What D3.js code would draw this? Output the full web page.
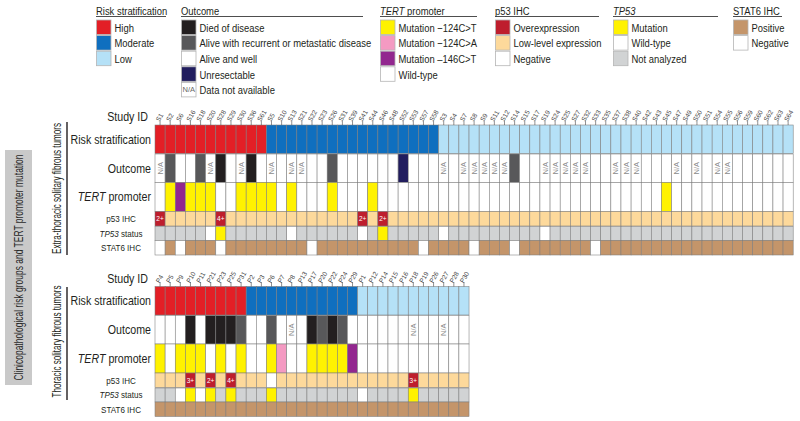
<!DOCTYPE html>
<html><head><meta charset="utf-8">
<script src="https://cdn.jsdelivr.net/npm/d3@7"></script>
<style>body{margin:0;background:#fff}svg{display:block}text{font-family:"Liberation Sans",Arial,sans-serif}</style>
</head><body><svg id="c" width="800" height="421"></svg>
<script>
// ---------------- DATA ----------------
const topIds = ["S1","S2","S6","S16","S18","S20","S28","S29","S30","S36","S61",
  "S5","S10","S13","S21","S22","S23","S26","S31","S39","S41","S44","S46","S48","S52","S53","S57","S58",
  "S3","S4","S7","S8","S9","S11","S12","S14","S15","S17","S19","S24","S25","S27","S32","S33","S35","S37","S38","S40",
  "S42","S43","S45","S47","S49","S50","S51","S54","S55","S56","S59","S60","S62","S63","S64"];
const topRisk = ["H","H","H","H","H","H","H","H","H","H","H",
  "M","M","M","M","M","M","M","M","M","M","M","M","M","M","M","M","M",
  "L","L","L","L","L","L","L","L","L","L","L","L","L","L","L","L","L","L","L","L",
  "L","L","L","L","L","L","L","L","L","L","L","L","L","L","L"];
const topOutcome = ["NA","R","A","A","R","NA","D","A","NA","D",
  "A","NA","A","NA","NA","A","A","R","A","A",
  "A","A","A","A","U","A","A","A","NA","A",
  "NA","NA","NA","NA","NA","R","A","A","NA","NA",
  "NA","NA","NA","A","A","NA","NA","NA","A","A",
  "A","NA","A","NA","A","NA","NA","A","A","A",
  "A","A","A"];
const topTert = ["W","T","C","T","T","T","W","W","T","T",
  "T","T","W","T","W","W","W","T","W","W",
  "W","T","W","W","W","W","W","W","W","W",
  "W","W","W","W","W","W","W","W","W","W",
  "W","W","W","W","W","W","W","W","W","W",
  "T","W","W","W","W","W","W","W","W","W",
  "W","W","W"];
const topP53 = ["2+","L","L","L","L","L","4+","L","L","L",
  "L","L","L","L","L","L","L","L","L","L",
  "2+","L","2+","L","L","L","L","L","L","L",
  "L","L","L","L","L","L","L","L","L","L",
  "L","L","L","L","L","L","L","L","L","L",
  "L","L","L","L","L","L","L","L","L","L",
  "L","L","L"];
const topTP53 = ["X","X","X","X","X","W","M","X","X","X",
  "X","X","X","W","X","X","X","X","X","X",
  "W","X","M","X","X","X","X","X","W","X",
  "X","X","X","X","X","X","X","X","W","X",
  "X","X","X","X","X","X","X","X","X","X",
  "X","X","X","X","X","X","X","X","X","X",
  "X","X","X"];
const topStat6 = ["N","P","N","P","P","P","N","P","P","P",
  "P","P","P","P","P","N","P","P","P","P",
  "P","P","P","P","P","P","N","P","P","P",
  "P","N","P","P","P","N","P","P","P","P",
  "P","P","P","N","P","P","P","P","P","P",
  "P","P","P","P","P","P","P","P","P","P",
  "P","P","P"];

const botIds = ["P4","P5","P9","P10","P11","P21","P23","P25","P31",
  "P2","P3","P6","P7","P8","P13","P17","P20","P22","P24","P29",
  "P1","P12","P14","P15","P16","P18","P19","P26","P27","P28","P30"];
const botRisk = ["H","H","H","H","H","H","H","H","H",
  "M","M","M","M","M","M","M","M","M","M","M",
  "L","L","L","L","L","L","L","L","L","L","L"];
const botOutcome = ["A","A","A","D","A","D","D","D","R","A",
  "A","R","A","NA","A","D","R","D","R","A",
  "A","A","A","A","A","NA","A","A","NA","A","A"];
const botTert = ["T","W","T","T","T","W","T","W","T","W",
  "W","T","A","W","W","T","T","T","T","C",
  "W","W","W","W","W","W","W","W","W","W","W"];
const botP53 = ["L","L","L","3+","L","2+","L","4+","L","L",
  "L","N","L","L","L","L","L","L","L","L",
  "L","L","L","L","L","3+","L","L","L","L","L"];
const botTP53 = ["X","X","W","M","W","M","X","M","X","X",
  "X","M","X","X","X","X","X","X","X","X",
  "W","X","X","X","X","M","X","X","X","X","X"];
const botStat6 = ["P","P","P","P","P","P","P","P","P","P",
  "P","P","P","P","P","P","P","P","P","P",
  "P","P","P","P","P","P","P","P","P","P","P"];

// legend texts
const riskLegend = [["H","High"],["M","Moderate"],["L","Low"]];
const outcomeLegend = [["D","Died of disease"],["R","Alive with recurrent or metastatic disease"],["A","Alive and well"],["U","Unresectable"],["NA","Data not available"]];
const tertLegend = [["T","Mutation \u2212124C>T"],["A","Mutation \u2212124C>A"],["C","Mutation \u2013146C>T"],["W","Wild-type"]];
const p53Legend = [["O","Overexpression"],["L","Low-level expression"],["N","Negative"]];
const tp53Legend = [["M","Mutation"],["W","Wild-type"],["X","Not analyzed"]];
const stat6Legend = [["P","Positive"],["N","Negative"]];

// ---------------- STYLE ----------------
const pal = {
  risk: {H:"#e31f26", M:"#0f6fbf", L:"#b5e1f7"},
  outcome: {D:"#231f20", R:"#58585a", A:"#ffffff", U:"#211d5e", NA:"#ffffff"},
  tert: {T:"#fff200", A:"#f49ac2", C:"#92278f", W:"#ffffff"},
  p53: {O:"#be1e2d", L:"#fdd99b", N:"#ffffff"},
  tp53: {M:"#fff200", W:"#ffffff", X:"#d1d3d4"},
  stat6: {P:"#c4956a", N:"#ffffff"}
};
const p53Color = v => (v==="L"||v==="N") ? pal.p53[v] : pal.p53.O;

const svg = d3.select("#c");
const CW = 10.13, X0 = 155, SX = 0.82;

const rows = [
  {key:"risk", off:0, h:28.5, label:[["Risk stratification",false]], big:true},
  {key:"outcome", off:29, h:28.5, label:[["Outcome",false]], big:true},
  {key:"tert", off:57.5, h:29, label:[["TERT",true],[" promoter",false]], big:true},
  {key:"p53", off:86.5, h:14.5, label:[["p53 IHC",false]], big:false},
  {key:"tp53", off:101.5, h:14, label:[["TP53",true],[" status",false]], big:false},
  {key:"stat6", off:115.5, h:14.5, label:[["STAT6 IHC",false]], big:false}
];

const blocks = [
  {ids:topIds, risk:topRisk, outcome:topOutcome, tert:topTert, p53:topP53, tp53:topTP53, stat6:topStat6,
   y0:125, title:"Extra-thoracic solitary fibrous tumors", tLen:131, ly:[122,255]},
  {ids:botIds, risk:botRisk, outcome:botOutcome, tert:botTert, p53:botP53, tp53:botTP53, stat6:botStat6,
   y0:286.5, title:"Thoracic solitary fibrous tumors", tLen:112, ly:[287,400]}
];

function addLabel(g, parts, x, y, size, anchor){
  const t = g.append("text").attr("transform",`translate(${x},${y}) scale(${SX},1)`)
    .attr("text-anchor",anchor).attr("dominant-baseline","central")
    .attr("font-size",size).attr("fill","#231f20");
  parts.forEach(([s,it]) => t.append("tspan").text(s).attr("font-style", it?"italic":"normal"));
  return t;
}

blocks.forEach(b => {
  const n = b.ids.length;
  const x = d3.scaleBand().domain(b.ids).range([X0, X0 + n*CW]).padding(0);
  const g = svg.append("g");
  rows.forEach(r => {
    const y = b.y0 + r.off;
    const vals = b[r.key];
    const cells = g.append("g").selectAll("g").data(b.ids.map((id,i)=>({id, v:vals[i]}))).join("g")
      .attr("transform", d => `translate(${x(d.id)},${y})`);
    cells.append("rect").attr("width", x.bandwidth()).attr("height", r.h)
      .attr("fill", d => r.key==="p53" ? p53Color(d.v) : pal[r.key][d.v])
      .attr("stroke", "#7d7d7d").attr("stroke-width", 0.55);
    if (r.key === "outcome") {
      cells.filter(d => d.v === "NA").append("text")
        .attr("transform", `translate(${x.bandwidth()/2},${r.h/2}) rotate(-90)`)
        .attr("text-anchor","middle").attr("dominant-baseline","central")
        .attr("font-size",7.5).attr("fill","#8c8c8c").text("N/A");
    }
    if (r.key === "p53") {
      cells.filter(d => d.v !== "L" && d.v !== "N").append("text")
        .attr("x", x.bandwidth()/2).attr("y", r.h/2).attr("text-anchor","middle")
        .attr("dominant-baseline","central").attr("font-size",6.5).attr("fill","#fff").text(d => d.v);
    }
    // row label
    const cy = y + r.h/2;
    if (r.big) addLabel(g, r.label, 151, cy, 13, "end");
    else addLabel(g, r.label, 121, cy, 9.8, "middle");
  });
  // Study ID header
  addLabel(g, [["Study ID",false]], 148, b.y0 - 8, 13, "end");
  // column ticks + labels
  const ticks = g.append("g").selectAll("g").data(b.ids).join("g")
    .attr("transform", d => `translate(${x(d) + x.bandwidth()/2},${b.y0})`);
  ticks.append("line").attr("y1",0).attr("y2",-4.5).attr("stroke","#444").attr("stroke-width",0.6);
  ticks.append("text").attr("transform","translate(-0.5,-3) rotate(-60)")
    .attr("font-size",6.6).attr("fill","#444").text(d => d);
  // bracket line and group title
  g.append("line").attr("x1",67).attr("x2",67).attr("y1",b.ly[0]).attr("y2",b.ly[1])
    .attr("stroke","#231f20").attr("stroke-width",1.4);
  g.append("text").attr("transform",`translate(57,${(b.ly[0]+b.ly[1])/2 + (b===blocks[0]?0:-2)}) rotate(-90)`)
    .attr("text-anchor","middle").attr("dominant-baseline","central")
    .attr("font-size",12).attr("fill","#231f20")
    .attr("textLength", b.tLen).attr("lengthAdjust","spacingAndGlyphs").text(b.title);
});

// outer grey side box
svg.append("rect").attr("x",5).attr("y",150).attr("width",27).attr("height",235).attr("fill","#c9c9c9");
svg.append("text").attr("transform","translate(18.5,267.5) rotate(-90)")
  .attr("text-anchor","middle").attr("dominant-baseline","central")
  .attr("font-size",13).attr("fill","#2a2a2a")
  .attr("textLength",226).attr("lengthAdjust","spacingAndGlyphs")
  .text("Clinicopathological risk groups and TERT promoter mutation");

// ---------------- LEGEND ----------------
const legends = [
  {title:[["Risk stratification",false]], x:96, w:70, items:riskLegend, pal:pal.risk},
  {title:[["Outcome",false]], x:181, w:182, items:outcomeLegend, pal:pal.outcome, na:true},
  {title:[["TERT",true],[" promoter",false]], x:380, w:97, items:tertLegend, pal:pal.tert},
  {title:[["p53 IHC",false]], x:495, w:104, items:p53Legend, pal:pal.p53},
  {title:[["TP53",true]], x:613, w:105, items:tp53Legend, pal:pal.tp53},
  {title:[["STAT6 IHC",false]], x:733, w:49, items:stat6Legend, pal:pal.stat6}
];
legends.forEach(L => {
  const g = svg.append("g");
  addLabel(g, L.title, L.x, 10.5, 11.5, "start");
  g.append("line").attr("x1",L.x).attr("x2",L.x+L.w).attr("y1",16.5).attr("y2",16.5)
    .attr("stroke","#3a3a3a").attr("stroke-width",0.9);
  const yS = d3.scaleBand().domain(L.items.map(d=>d[0])).range([19.5, 19.5 + 15.6*L.items.length]);
  L.items.forEach(([k,lab]) => {
    const y = yS(k);
    g.append("rect").attr("x",L.x+0.5).attr("y",y+0.5).attr("width",14.5).attr("height",14.5)
      .attr("fill", L.pal[k]).attr("stroke","#b5b5b5").attr("stroke-width",0.8);
    if (L.na && k==="NA") {
      g.append("text").attr("x",L.x+7.75).attr("y",y+8).attr("text-anchor","middle")
        .attr("dominant-baseline","central").attr("font-size",7.5).attr("fill","#666").text("N/A");
    }
    addLabel(g, [[lab,false]], L.x + 18.5, y + 8, 11.5, "start");
  });
});
</script></body></html>
